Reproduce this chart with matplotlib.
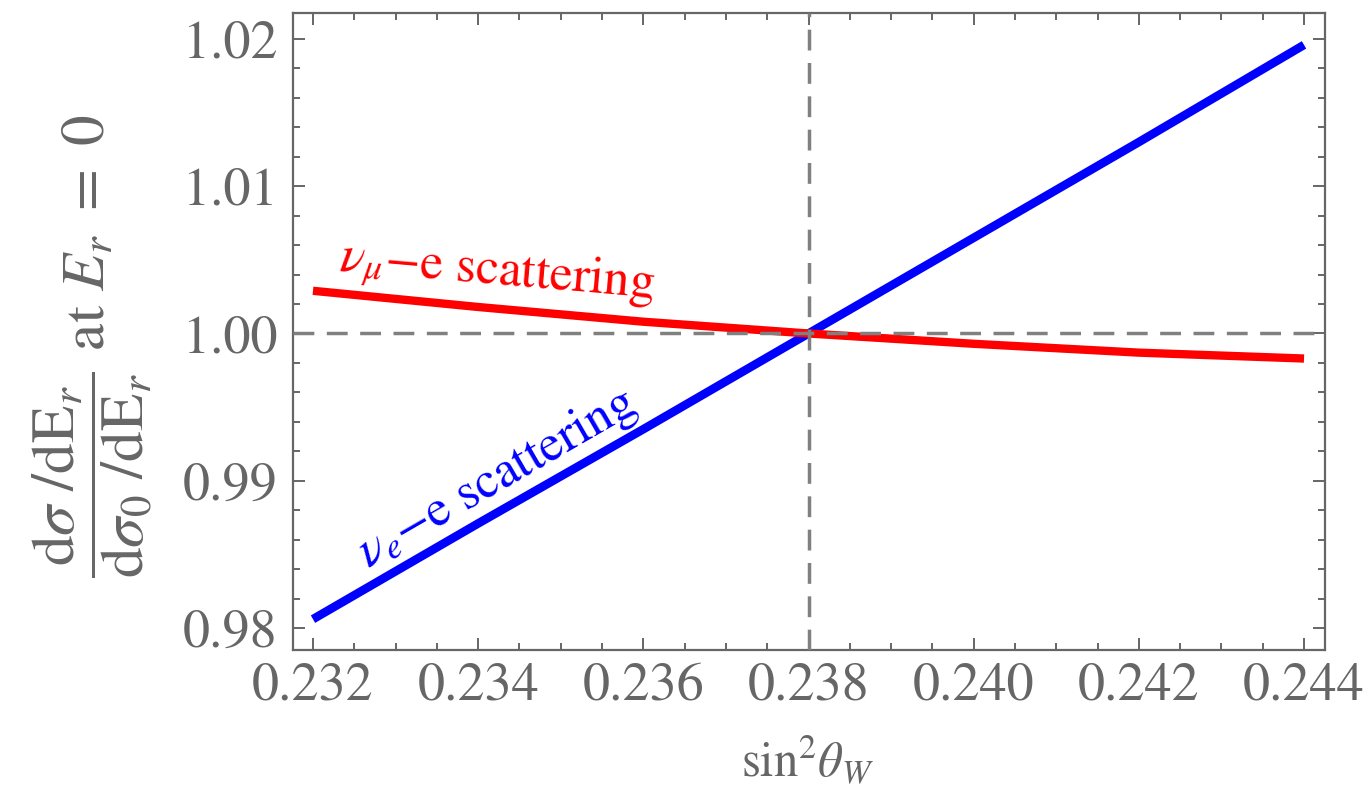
import numpy as np
import matplotlib
matplotlib.use("Agg")
import matplotlib.pyplot as plt
from matplotlib.ticker import MultipleLocator, FormatStrFormatter

# sin^2(theta_W) sample points and the ratios
sin2w = [0.232, 0.234, 0.236, 0.238, 0.240, 0.242, 0.244]
numu_e = [1.0029, 1.0018, 1.0008, 1.0000, 0.9993, 0.9987, 0.9983]
nue_e = [0.9806, 0.9871, 0.9935, 1.0000, 1.0065, 1.0130, 1.0196]
sin2w_ref = 0.238
ratio_ref = 1.0

plt.rcParams["font.family"] = ["STIXGeneral", "DejaVu Serif"]
plt.rcParams["mathtext.fontset"] = "stix"

gray = "#666666"
fig = plt.figure(figsize=(13.66, 7.93), dpi=100)
ax = fig.add_axes([293 / 1366, 1 - 650 / 793, 1032 / 1366, 637 / 793])

ax.plot(sin2w, nue_e, color="#0000ff", lw=6.2, solid_capstyle="butt", zorder=2)
ax.plot(sin2w, numu_e, color="#ff0000", lw=6.0, solid_capstyle="butt", zorder=2.5)

# reference lines
ax.axvline(sin2w_ref, color="#808080", lw=2.5, ls=(0, (6, 3.6)), zorder=3)
ax.axhline(ratio_ref, color="#808080", lw=2.5, ls=(0, (6, 3.6)), zorder=3)

ax.set_xlim(0.231758, 0.244254)
ax.set_ylim(0.978505, 1.021766)

ax.xaxis.set_major_locator(MultipleLocator(0.002))
ax.xaxis.set_minor_locator(MultipleLocator(0.0005))
ax.yaxis.set_major_locator(MultipleLocator(0.01))
ax.yaxis.set_minor_locator(MultipleLocator(0.002))
ax.xaxis.set_major_formatter(FormatStrFormatter("%.3f"))
ax.yaxis.set_major_formatter(FormatStrFormatter("%.2f"))

ax.tick_params(which="both", direction="in", top=True, right=True,
               color=gray, width=1.4, labelcolor=gray, labelsize=39)
ax.tick_params(which="major", length=8.6)
ax.tick_params(which="minor", length=5)
ax.tick_params(axis="y", pad=11)
ax.tick_params(axis="x", pad=9)
for s in ax.spines.values():
    s.set_color(gray)
    s.set_linewidth(1.6)

# curve labels
ax.text(0.23423, 1.0041, r"$\nu_\mu$" + "\u2212e scattering", color="#ff0000",
        fontsize=37, rotation=-5, ha="center", va="center", rotation_mode="anchor")
ax.text(0.23423, 0.99018, r"$\nu_e$" + "\u2212e scattering", color="#0000ff",
        fontsize=37, rotation=30, ha="center", va="center", rotation_mode="anchor")

fig.text(807 / 1366, 1 - 777 / 793, r"$\mathrm{sin}^2\theta_W$", color=gray,
         fontsize=35, ha="center", va="baseline")
fig.text(92 / 1366, 1 - 346 / 793,
         r"$\dfrac{\mathrm{d}\sigma\ /\mathrm{dE}_r}{\mathrm{d}\sigma_0\ /\mathrm{dE}_r}$"
         + r" at $E_r\ =\ 0$",
         color=gray, fontsize=44, rotation=90, ha="center", va="center")

fig.savefig("out.png", dpi=100)
